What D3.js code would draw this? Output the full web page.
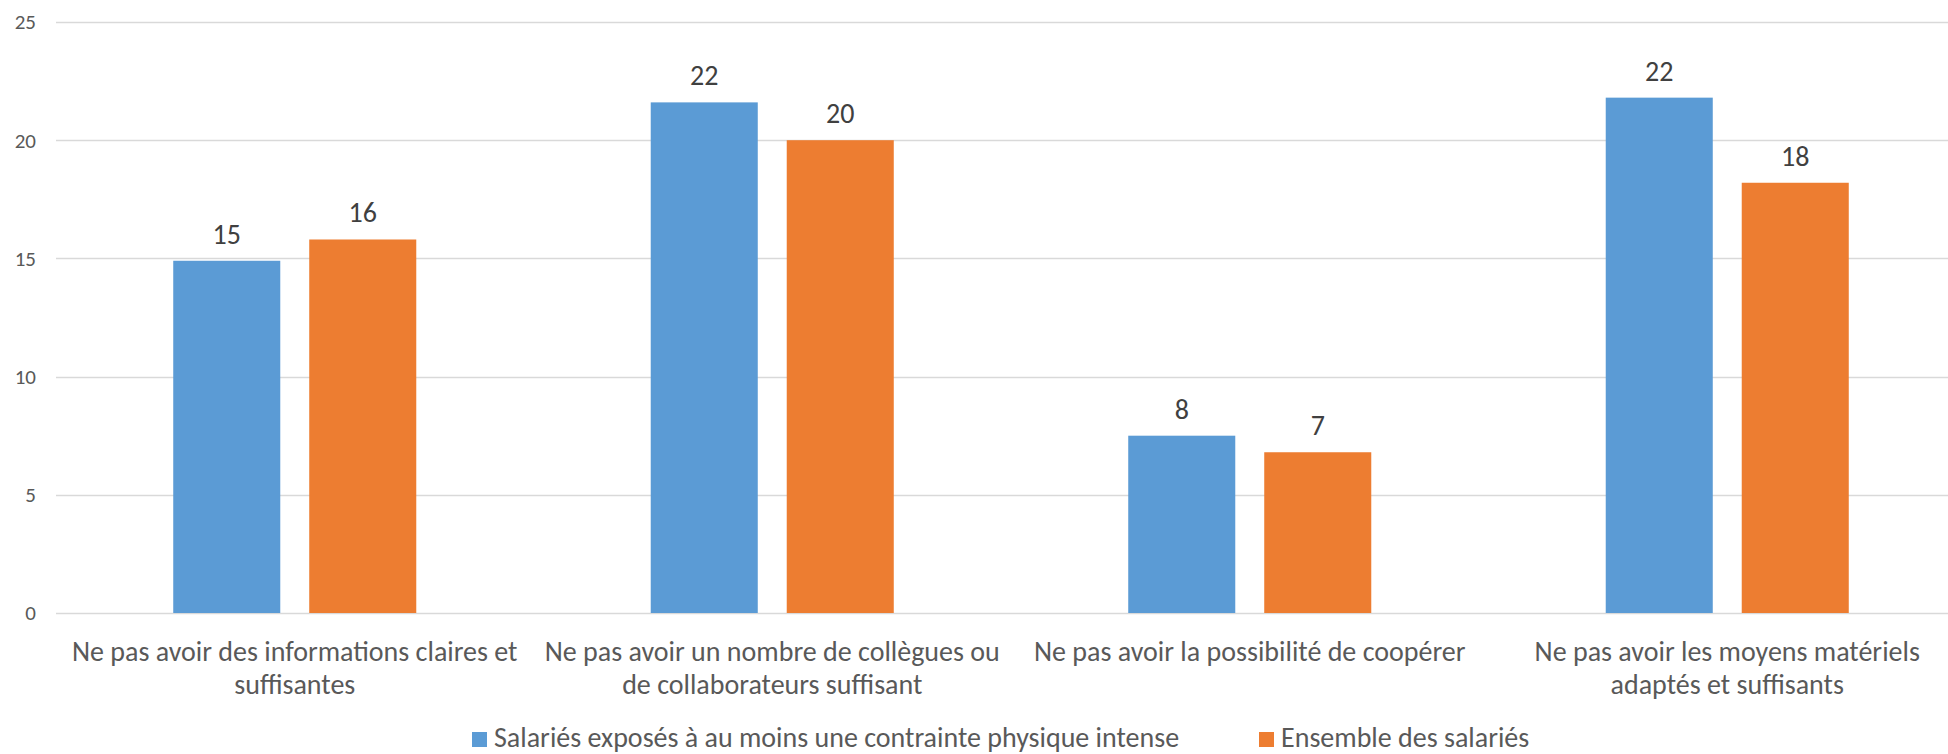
<!DOCTYPE html>
<html>
<head>
<meta charset="utf-8">
<script src="https://cdn.jsdelivr.net/npm/d3@7"></script>
<style>
  body { margin: 0; background: #fff; }
  svg { display: block; font-family: Carlito, Calibri, Lato, "Open Sans", sans-serif; }
</style>
</head>
<body>
<svg id="chart"></svg>
<script>
// data
const categories = [
  "Ne pas avoir des informations claires et\nsuffisantes",
  "Ne pas avoir un nombre de collègues ou\nde collaborateurs suffisant",
  "Ne pas avoir la possibilité de coopérer",
  "Ne pas avoir les moyens matériels\nadaptés et suffisants"
];
const seriesNames = ["Salariés exposés à au moins une contrainte physique intense", "Ensemble des salariés"];
const exposes = [14.9, 21.6, 7.5, 21.8];
const ensemble = [15.8, 20.0, 6.8, 18.2];
const yTicks = [0, 5, 10, 15, 20, 25];

const width = 1948, height = 754;
const colors = ["#5B9BD5", "#ED7D31"];

const svg = d3.select("#chart").attr("width", width).attr("height", height);

const x0 = d3.scaleBand().domain(categories).range([56, 1966]);
const x1 = d3.scaleBand().domain(seriesNames).range([0, x0.bandwidth()])
  .paddingInner(0.213).paddingOuter(0.862);
const y = d3.scaleLinear().domain([0, 25]).range([613, 22]);

// gridlines
svg.append("g")
  .selectAll("line")
  .data(yTicks)
  .enter()
  .append("line")
  .attr("x1", 56).attr("x2", width)
  .attr("y1", d => Math.round(y(d)) + 0.5).attr("y2", d => Math.round(y(d)) + 0.5)
  .attr("stroke", "#D9D9D9")
  .attr("stroke-width", 1.3);

// y tick labels
svg.append("g")
  .selectAll("text")
  .data(yTicks)
  .enter()
  .append("text")
  .attr("x", 36)
  .attr("y", d => y(d))
  .attr("dy", "0.35em")
  .attr("text-anchor", "end")
  .style("font-size", "21px")
  .style("fill", "#595959")
  .text(d => d);

const rows = categories.map((c, i) => ({ cat: c, vals: [exposes[i], ensemble[i]] }));

const groups = svg.append("g")
  .selectAll("g")
  .data(rows)
  .enter()
  .append("g")
  .attr("transform", d => "translate(" + x0(d.cat) + ",0)");

groups.selectAll("rect")
  .data(d => d.vals.map((v, j) => ({ name: seriesNames[j], v: v, j: j })))
  .enter()
  .append("rect")
  .attr("x", d => x1(d.name))
  .attr("width", x1.bandwidth())
  .attr("y", d => y(d.v))
  .attr("height", d => y(0) - y(d.v))
  .attr("fill", d => colors[d.j]);

// value labels
groups.selectAll("text.val")
  .data(d => d.vals.map((v, j) => ({ name: seriesNames[j], v: v })))
  .enter()
  .append("text")
  .attr("class", "val")
  .attr("x", d => x1(d.name) + x1.bandwidth() / 2)
  .attr("y", d => y(d.v) - 17)
  .attr("text-anchor", "middle")
  .style("font-size", "28px")
  .style("fill", "#404040")
  .text(d => Math.round(d.v));

// category labels
svg.append("g")
  .selectAll("text")
  .data(categories)
  .enter()
  .append("text")
  .attr("x", d => x0(d) + x0.bandwidth() / 2)
  .attr("y", 661)
  .attr("text-anchor", "middle")
  .style("font-size", "28px")
  .style("fill", "#595959")
  .each(function (d) {
    d.split("\n").forEach((line, k) => {
      d3.select(this).append("tspan")
        .attr("x", x0(d) + x0.bandwidth() / 2)
        .attr("dy", k === 0 ? 0 : 32.6)
        .text(line);
    });
  });

// legend
const legendX = [472, 1259];
const legend = svg.append("g")
  .selectAll("g")
  .data(seriesNames)
  .enter()
  .append("g")
  .attr("transform", (d, i) => "translate(" + legendX[i] + ",732)");

legend.append("rect")
  .attr("width", 15).attr("height", 15)
  .attr("fill", (d, i) => colors[i]);

legend.append("text")
  .attr("x", 22)
  .attr("y", 15)
  .style("font-size", "28px")
  .style("fill", "#595959")
  .text(d => d);
</script>
</body>
</html>
